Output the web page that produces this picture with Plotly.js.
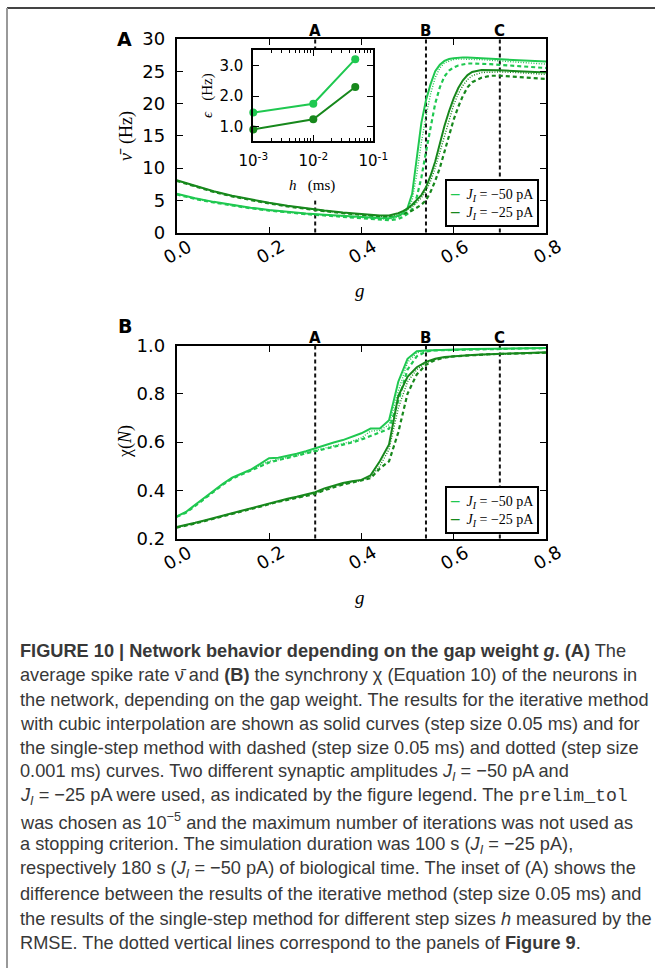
<!DOCTYPE html>
<html>
<head>
<meta charset="utf-8">
<script src="https://cdn.plot.ly/plotly-3.0.1.min.js"></script>
<style>html,body{margin:0;padding:0;background:#fff;}#chart{width:655px;height:968px;}</style>
</head>
<body>
<div id="chart"></div>
<script>
// ---------------- DATA ----------------
// Panel A: mean spike rate vs gap weight g
const gA = [0, 0.04, 0.08, 0.12, 0.16, 0.2, 0.24, 0.28, 0.32, 0.36, 0.4, 0.44, 0.46, 0.48, 0.49, 0.5, 0.51, 0.52, 0.53, 0.54, 0.55, 0.56, 0.57, 0.58, 0.59, 0.6, 0.61, 0.62, 0.63, 0.64, 0.66, 0.68, 0.7, 0.74, 0.8];
const rate50Solid  = [6.0, 5.3, 4.75, 4.25, 3.85, 3.5, 3.2, 2.95, 2.75, 2.55, 2.4, 2.25, 2.2, 2.6, 3.0, 3.8, 6.0, 11.5, 17.0, 20.5, 23.0, 25.0, 26.0, 26.6, 26.9, 27.0, 27.1, 27.15, 27.15, 27.1, 27.05, 27.0, 26.9, 26.7, 26.5];
const rate50Dotted = [5.95, 5.25, 4.7, 4.2, 3.8, 3.45, 3.15, 2.9, 2.7, 2.5, 2.3, 2.1, 2.05, 2.4, 2.8, 3.5, 5.0, 9.0, 14.0, 18.0, 21.5, 24.0, 25.5, 26.3, 26.6, 26.8, 26.9, 26.9, 26.9, 26.9, 26.8, 26.7, 26.6, 26.4, 26.1];
const rate50Dashed = [5.9, 5.2, 4.65, 4.15, 3.75, 3.4, 3.1, 2.85, 2.65, 2.45, 2.2, 2.0, 1.9, 2.1, 2.4, 2.9, 3.6, 5.5, 8.5, 12.5, 16.5, 20.0, 22.5, 24.2, 25.1, 25.6, 25.9, 26.1, 26.2, 26.2, 26.2, 26.1, 26.0, 25.8, 25.5];
const rate25Solid  = [8.1, 7.2, 6.4, 5.7, 5.1, 4.6, 4.15, 3.75, 3.4, 3.1, 2.85, 2.65, 2.65, 3.0, 3.3, 3.7, 4.3, 5.0, 5.8, 7.0, 8.8, 11.0, 13.8, 16.5, 18.8, 20.8, 22.4, 23.6, 24.4, 24.9, 25.2, 25.2, 25.15, 25.0, 24.8];
const rate25Dotted = [8.05, 7.15, 6.35, 5.65, 5.05, 4.55, 4.1, 3.7, 3.35, 3.05, 2.75, 2.5, 2.5, 2.8, 3.1, 3.5, 4.0, 4.6, 5.4, 6.4, 8.0, 10.0, 12.5, 15.0, 17.5, 19.8, 21.5, 22.8, 23.7, 24.3, 24.8, 24.9, 24.9, 24.8, 24.5];
const rate25Dashed = [8.0, 7.1, 6.3, 5.6, 5.0, 4.5, 4.05, 3.65, 3.3, 3.0, 2.7, 2.4, 2.35, 2.6, 2.8, 3.1, 3.4, 3.8, 4.3, 5.0, 6.3, 8.0, 10.0, 12.5, 15.0, 17.5, 19.5, 21.2, 22.5, 23.3, 24.0, 24.3, 24.3, 24.1, 23.8];

// Panel B: synchrony chi(N) vs gap weight g
const gB = [0, 0.02, 0.04, 0.06, 0.08, 0.1, 0.12, 0.14, 0.16, 0.18, 0.2, 0.22, 0.24, 0.26, 0.28, 0.3, 0.32, 0.34, 0.36, 0.38, 0.4, 0.42, 0.44, 0.46, 0.48, 0.5, 0.52, 0.54, 0.56, 0.58, 0.6, 0.62, 0.64, 0.66, 0.68, 0.7, 0.72, 0.74, 0.76, 0.78, 0.8];
const chi50Solid  = [0.292, 0.31, 0.34, 0.37, 0.40, 0.427, 0.452, 0.468, 0.485, 0.508, 0.533, 0.535, 0.542, 0.551, 0.562, 0.574, 0.588, 0.598, 0.608, 0.622, 0.636, 0.656, 0.656, 0.69, 0.85, 0.945, 0.976, 0.979, 0.981, 0.982, 0.983, 0.984, 0.985, 0.986, 0.986, 0.987, 0.988, 0.988, 0.989, 0.989, 0.99];
const chi50Dotted = [0.29, 0.308, 0.337, 0.367, 0.397, 0.424, 0.449, 0.466, 0.483, 0.502, 0.52, 0.527, 0.535, 0.545, 0.555, 0.564, 0.573, 0.582, 0.592, 0.603, 0.617, 0.645, 0.648, 0.672, 0.81, 0.93, 0.97, 0.978, 0.98, 0.981, 0.982, 0.983, 0.984, 0.985, 0.985, 0.986, 0.987, 0.987, 0.988, 0.988, 0.989];
const chi50Dashed = [0.29, 0.307, 0.335, 0.365, 0.395, 0.423, 0.448, 0.465, 0.482, 0.5, 0.515, 0.525, 0.533, 0.543, 0.553, 0.562, 0.57, 0.578, 0.588, 0.598, 0.61, 0.625, 0.64, 0.655, 0.77, 0.9, 0.955, 0.975, 0.98, 0.981, 0.982, 0.983, 0.984, 0.985, 0.985, 0.986, 0.987, 0.987, 0.988, 0.988, 0.989];
const chi25Solid  = [0.248, 0.255, 0.265, 0.275, 0.285, 0.296, 0.306, 0.316, 0.327, 0.337, 0.347, 0.356, 0.365, 0.373, 0.381, 0.392, 0.408, 0.42, 0.43, 0.437, 0.443, 0.462, 0.52, 0.59, 0.79, 0.87, 0.91, 0.932, 0.945, 0.952, 0.956, 0.959, 0.961, 0.963, 0.965, 0.966, 0.967, 0.968, 0.969, 0.97, 0.972];
const chi25Dotted = [0.246, 0.253, 0.263, 0.273, 0.283, 0.294, 0.304, 0.314, 0.325, 0.335, 0.345, 0.354, 0.362, 0.37, 0.378, 0.388, 0.403, 0.415, 0.426, 0.434, 0.44, 0.455, 0.50, 0.57, 0.74, 0.85, 0.90, 0.928, 0.942, 0.95, 0.955, 0.958, 0.96, 0.962, 0.964, 0.965, 0.966, 0.967, 0.968, 0.969, 0.971];
const chi25Dashed = [0.245, 0.252, 0.262, 0.272, 0.282, 0.293, 0.303, 0.313, 0.324, 0.334, 0.344, 0.352, 0.36, 0.368, 0.376, 0.385, 0.4, 0.412, 0.424, 0.432, 0.44, 0.45, 0.49, 0.52, 0.64, 0.80, 0.88, 0.92, 0.94, 0.95, 0.955, 0.958, 0.96, 0.962, 0.964, 0.965, 0.966, 0.967, 0.968, 0.969, 0.97];

// Inset: RMSE vs step size h
const hInset = [0.001, 0.01, 0.05];
const rmse50 = [1.46, 1.75, 3.21];
const rmse25 = [0.91, 1.24, 2.30];

// Vertical reference lines (panels of Figure 9)
const refG = [0.3, 0.54, 0.7];
const refLabels = ['A', 'B', 'C'];

// Ticks
const xTickVals = [0, 0.2, 0.4, 0.6, 0.8];
const xTickText = ['0.0', '0.2', '0.4', '0.6', '0.8'];
const yTickValsA = [0, 5, 10, 15, 20, 25, 30];
const yTickValsB = [0.2, 0.4, 0.6, 0.8, 1.0];
const yTickTextB = ['0.2', '0.4', '0.6', '0.8', '1.0'];
const insetXTickVals = [0.001, 0.01, 0.1];
const insetXTickText = ['10<sup>-3</sup>', '10<sup>-2</sup>', '10<sup>-1</sup>'];
const insetYTickVals = [1, 2, 3];
const insetYTickText = ['1.0', '2.0', '3.0'];

const legendLabels = ['<i>J<sub>I</sub></i> = \u221250 pA', '<i>J<sub>I</sub></i> = \u221225 pA'];

const captionLines = [
  '<b>FIGURE 10 | Network behavior depending on the gap weight <i>g</i>. (A)</b> The',
  'average spike rate \u03bd\u0304 and <b>(B)</b> the synchrony \u03c7 (Equation 10) of the neurons in',
  'the network, depending on the gap weight. The results for the iterative method',
  'with cubic interpolation are shown as solid curves (step size 0.05 ms) and for',
  'the single-step method with dashed (step size 0.05 ms) and dotted (step size',
  '0.001 ms) curves. Two different synaptic amplitudes <i>J<sub>I</sub></i> = \u221250 pA and',
  '<i>J<sub>I</sub></i> = \u221225 pA were used, as indicated by the figure legend. The <span style="font-family:\'Liberation Mono\',monospace">prelim_tol</span>',
  'was chosen as 10<sup>\u22125</sup> and the maximum number of iterations was not used as',
  'a stopping criterion. The simulation duration was 100 s (<i>J<sub>I</sub></i> = \u221225 pA),',
  'respectively 180 s (<i>J<sub>I</sub></i> = \u221250 pA) of biological time. The inset of (A) shows the',
  'difference between the results of the iterative method (step size 0.05 ms) and',
  'the results of the single-step method for different step sizes <i>h</i> measured by the',
  'RMSE. The dotted vertical lines correspond to the panels of <b>Figure 9</b>.'
];

// ---------------- STYLE ----------------
const W = 655, H = 968;
const LIGHT = '#1fc850', DARK = '#17881c';
const px = v => v / W;
const py = v => 1 - v / H;

const tickFont = {family: 'DejaVu Sans', size: 18, color: '#000'};
const insetTickFont = {family: 'DejaVu Sans', size: 15, color: '#000'};
const serif = 'Liberation Serif, DejaVu Serif, serif';

function mk(x, y, color, style, xa, ya) {
  const line = {color: color, width: 2};
  if (style === 'dash') { line.dash = '4px,3px'; line.width = 2.2; }
  if (style === 'dot') { line.dash = '1px,1.6px'; line.width = 1.4; }
  return {x: x, y: y, type: 'scatter', mode: 'lines', line: line, xaxis: xa, yaxis: ya, showlegend: false, hoverinfo: 'skip'};
}

const traces = [
  mk(gA, rate50Dotted, LIGHT, 'dot', 'x', 'y'),
  mk(gA, rate50Dashed, LIGHT, 'dash', 'x', 'y'),
  mk(gA, rate25Dotted, DARK, 'dot', 'x', 'y'),
  mk(gA, rate25Dashed, DARK, 'dash', 'x', 'y'),
  mk(gA, rate50Solid, LIGHT, 'solid', 'x', 'y'),
  mk(gA, rate25Solid, DARK, 'solid', 'x', 'y'),
  mk(gB, chi50Dotted, LIGHT, 'dot', 'x2', 'y2'),
  mk(gB, chi50Dashed, LIGHT, 'dash', 'x2', 'y2'),
  mk(gB, chi25Dotted, DARK, 'dot', 'x2', 'y2'),
  mk(gB, chi25Dashed, DARK, 'dash', 'x2', 'y2'),
  mk(gB, chi50Solid, LIGHT, 'solid', 'x2', 'y2'),
  mk(gB, chi25Solid, DARK, 'solid', 'x2', 'y2'),
  {x: hInset, y: rmse50, type: 'scatter', mode: 'lines+markers', xaxis: 'x3', yaxis: 'y3',
   line: {color: LIGHT, width: 2}, marker: {color: LIGHT, size: 8}, showlegend: false, cliponaxis: false, hoverinfo: 'skip'},
  {x: hInset, y: rmse25, type: 'scatter', mode: 'lines+markers', xaxis: 'x3', yaxis: 'y3',
   line: {color: DARK, width: 2}, marker: {color: DARK, size: 8}, showlegend: false, cliponaxis: false, hoverinfo: 'skip'}
];

const domX = [px(176.7), px(546)];
const baseAxis = {
  showline: true, linecolor: '#000', linewidth: 2, mirror: 'allticks',
  ticks: 'inside', ticklen: 6, tickwidth: 1, tickcolor: '#000',
  showgrid: false, zeroline: false, tickfont: tickFont, automargin: false
};

const layout = {
  width: W, height: H,
  margin: {l: 0, r: 0, t: 0, b: 0},
  paper_bgcolor: '#fff', plot_bgcolor: 'rgba(0,0,0,0)',
  showlegend: false,
  xaxis: Object.assign({}, baseAxis, {domain: domX, range: [0, 0.8], anchor: 'y', tickvals: xTickVals, showticklabels: false}),
  yaxis: Object.assign({}, baseAxis, {domain: [py(232.5), py(39)], range: [0, 30], anchor: 'x', tickvals: yTickValsA, ticklabelstandoff: 6}),
  xaxis2: Object.assign({}, baseAxis, {domain: domX, range: [0, 0.8], anchor: 'y2', tickvals: xTickVals, showticklabels: false}),
  yaxis2: Object.assign({}, baseAxis, {domain: [py(538.5), py(345.5)], range: [0.2, 1.0], anchor: 'x2', tickvals: yTickValsB, ticktext: yTickTextB, ticklabelstandoff: 6}),
  xaxis3: Object.assign({}, baseAxis, {domain: [px(253.3), px(373.3)], type: 'log', range: [-3, -1], anchor: 'y3',
    tickvals: insetXTickVals, ticktext: insetXTickText, ticklen: 6, tickfont: insetTickFont, ticklabelstandoff: 5,
    minor: {ticks: 'inside', ticklen: 3, tickwidth: 1, tickcolor: '#000', dtick: 'D1', showgrid: false}}),
  yaxis3: Object.assign({}, baseAxis, {domain: [py(141), py(50)], range: [0.53, 3.51], anchor: 'x3',
    tickvals: insetYTickVals, ticktext: insetYTickText, ticklen: 6, tickfont: insetTickFont, ticklabelstandoff: 5}),
  shapes: [],
  annotations: []
};

// reference vertical lines (lowest layer) and their labels
[['x', 'y'], ['x2', 'y2']].forEach(([xa, ya]) => {
  refG.forEach((g, i) => {
    layout.shapes.push({type: 'line', xref: xa, yref: ya + ' domain', x0: g, x1: g, y0: 0, y1: 1,
      line: {color: '#111', width: 2, dash: '4px,3px'}, layer: 'below'});
    layout.annotations.push({xref: xa, yref: ya + ' domain', x: g, y: 1, xanchor: 'center', yanchor: 'bottom', yshift: -3,
      text: '<b>' + refLabels[i] + '</b>', showarrow: false, font: {family: 'DejaVu Sans', size: 15, color: '#000'}});
  });
  // rotated x tick labels, centred on the ticks
  xTickVals.forEach((v, i) => {
    layout.annotations.push({xref: xa, yref: ya + ' domain', x: v, y: 0, xanchor: 'center', yanchor: 'middle',
      xshift: 1, yshift: -19, textangle: -30, text: xTickText[i], showarrow: false, font: tickFont});
  });
  // legend
  layout.annotations.push({xref: xa + ' domain', yref: ya + ' domain', x: 1, y: 0, xanchor: 'right', yanchor: 'bottom',
    xshift: -7, yshift: 5, align: 'left', showarrow: false,
    bordercolor: '#000', borderwidth: 2, borderpad: 3, bgcolor: '#fff',
    font: {family: serif, size: 14, color: '#000'},
    text: '<span style="color:' + LIGHT + ';font-size:17px"><b>\u2013</b></span>  ' + legendLabels[0] + '<br>' +
          '<span style="color:' + DARK + ';font-size:17px"><b>\u2013</b></span>  ' + legendLabels[1]});
});

// white patch behind the inset (covers the A line there, stays under the main curves)
layout.shapes.push({type: 'rect', xref: 'x', yref: 'y', x0: 0.2, x1: 0.4, y0: 5.0, y1: 28.5,
  fillcolor: '#fff', line: {width: 0}, layer: 'below'});

// figure frame
layout.shapes.push({type: 'line', xref: 'paper', yref: 'paper', x0: px(7), x1: 1, y0: py(8), y1: py(8), line: {color: '#444', width: 2}});
layout.shapes.push({type: 'line', xref: 'paper', yref: 'paper', x0: px(7), x1: px(7), y0: py(8), y1: 0, line: {color: '#999', width: 2}});

// axis titles and panel letters
const ann = layout.annotations;
function lab(x, y, text, size, family, angle) {
  ann.push({xref: 'paper', yref: 'paper', x: px(x), y: py(y), xanchor: 'center', yanchor: 'middle', text: text,
    textangle: angle || 0, showarrow: false, font: {family: family, size: size, color: '#000'}});
}
lab(127, 136, '<i>\u03bd\u0304</i>  (Hz)', 18, serif, -90);
lab(125, 442, '\u03c7(<i>N</i>)', 18, serif, -90);
lab(360, 290, '<i>g</i>', 19, serif);
lab(360, 597, '<i>g</i>', 19, serif);
lab(312, 186, '<i>h</i>   (ms)', 15, serif);
lab(207, 96, '<i>\u03f5</i>   (Hz)', 15, serif, -90);
lab(124.5, 39, '<b>A</b>', 19, 'DejaVu Sans');
lab(124.5, 326, '<b>B</b>', 19, 'DejaVu Sans');

// caption
captionLines.forEach((t, i) => {
  ann.push({xref: 'paper', yref: 'paper', x: px(18), y: py(651 + i * 24.33), xanchor: 'left', yanchor: 'middle',
    text: t, showarrow: false, align: 'left', font: {family: 'Liberation Sans, Arial, sans-serif', size: 18.2, color: '#383838'}});
});

Plotly.newPlot('chart', traces, layout, {staticPlot: true});
</script>
</body>
</html>
